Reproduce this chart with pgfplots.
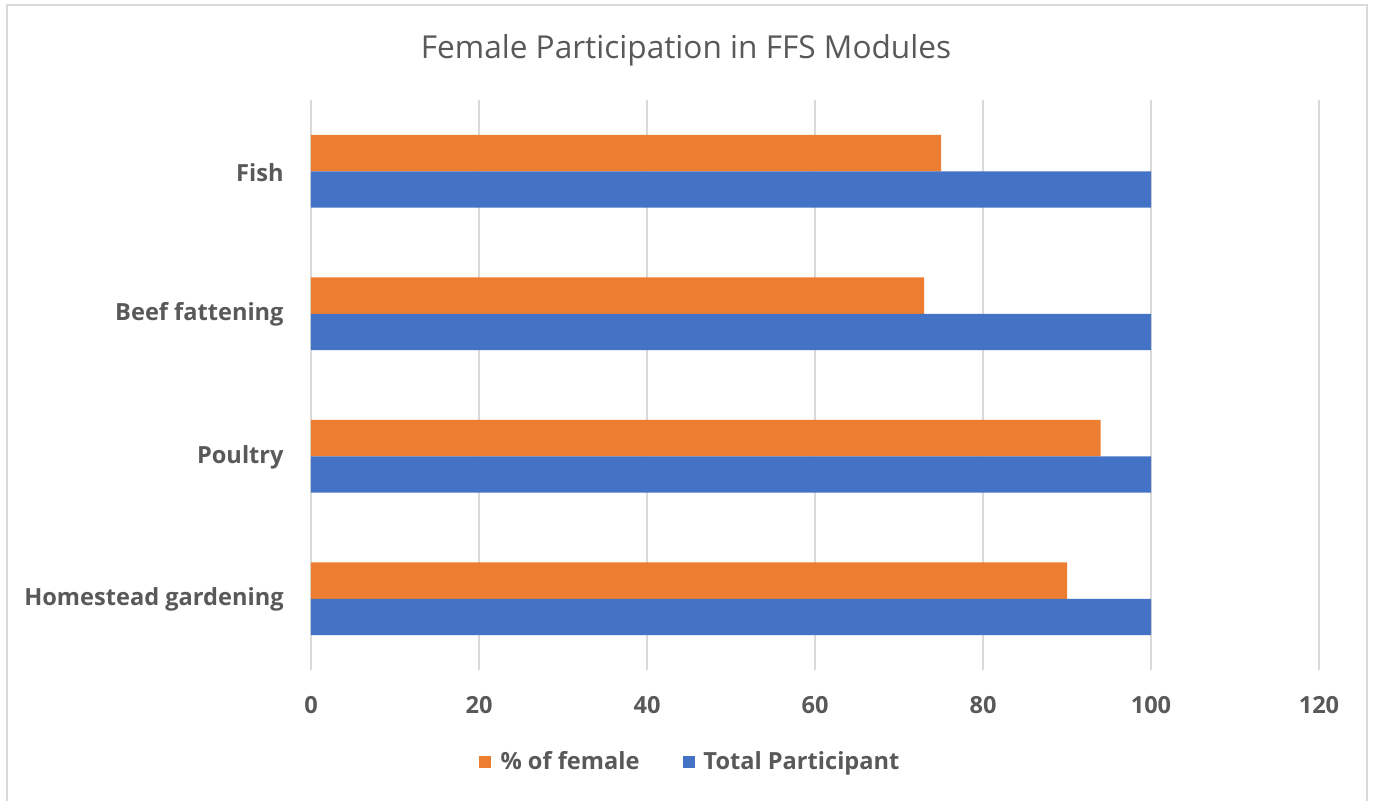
\documentclass[border=0pt]{standalone}
\usepackage{pgfplots}
\pgfplotsset{compat=1.18}
\usepackage{fontspec}
\setmainfont{Open Sans}
\definecolor{cOrange}{HTML}{ED7D31}
\definecolor{cBlue}{HTML}{4472C4}
\definecolor{cGrid}{HTML}{D9D9D9}
\definecolor{cText}{HTML}{595959}
\definecolor{cBorder}{HTML}{D9D9D9}
\begin{document}
\begin{tikzpicture}
\useasboundingbox (0,0) rectangle (686.5pt,400pt);
\fill[white] (0,0) rectangle (686.5pt,400pt);
\draw[cBorder, line width=1pt] (3.5pt,-5pt) rectangle (683.5pt,397.5pt);
\node[text=cText, font=\fontsize{15.8pt}{18pt}\selectfont] at (343pt,375pt) {Female Participation in FFS Modules};
\begin{axis}[
  at={(155.5pt,65pt)}, anchor=south west,
  scale only axis, width=504pt, height=285pt,
  xbar, xmin=0, xmax=120, ymin=-0.5, ymax=3.5,
  xtick={0,20,...,120},
  ytick={0,1,2,3},
  yticklabels={Homestead gardening, Poultry, Beef fattening, {Fish\hspace{4pt}}},
  bar width=0.256,
  axis line style={draw=none},
  major tick length=0pt,
  xmajorgrids, grid style={cGrid, line width=0.8pt},
  /pgf/number format/assume math mode=true,
  ticklabel style={text=cText, font=\bfseries\fontsize{11.8pt}{14pt}\selectfont},
  yticklabel style={anchor=east, inner sep=0pt, xshift=-13.5pt, yshift=-0.5pt},
  xticklabel style={anchor=north, inner sep=0pt, yshift=-13pt},
  legend style={at={(0.377,-0.161)}, anchor=center, draw=none, fill=none,
    legend columns=2, font=\bfseries\fontsize{11.8pt}{14pt}\selectfont, text=cText,
    /tikz/every even column/.append style={column sep=20pt}},
  legend image code/.code={\fill[#1] (0pt,-3pt) rectangle (6pt,3pt);},
]
\addplot[fill=cOrange, draw=none, bar shift=0.128] coordinates {(90,0) (94,1) (73,2) (75,3)};
\addlegendentry{\hspace{3pt}\% of female}
\addplot[fill=cBlue, draw=none, bar shift=-0.128] coordinates {(100,0) (100,1) (100,2) (100,3)};
\addlegendentry{\hspace{2pt}Total Participant}
\end{axis}
\end{tikzpicture}
\end{document}
